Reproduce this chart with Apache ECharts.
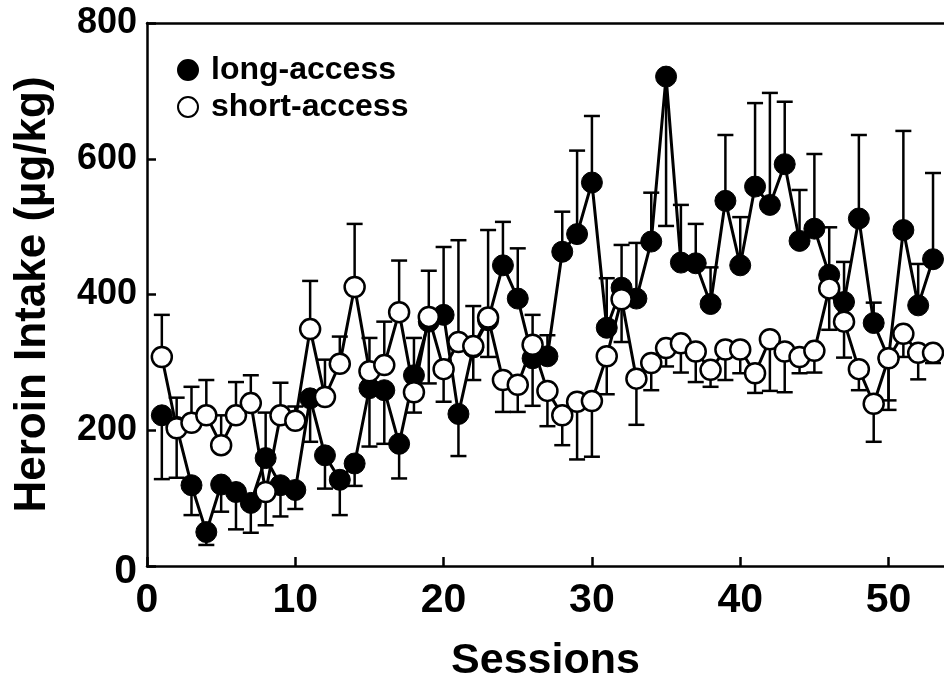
<!DOCTYPE html>
<html>
<head>
<meta charset="utf-8">
<script src="https://cdn.jsdelivr.net/npm/echarts@6/dist/echarts.min.js"></script>
<style>
  html, body { margin: 0; padding: 0; background: #fff; }
  #chart { width: 944px; height: 677px; }
</style>
</head>
<body>
<div id="chart"></div>
<script>
// sessions 1..53
var sessions = [];
for (var i = 1; i <= 53; i++) sessions.push(i);

// long-access means (filled circles)
var longMean = [222, 205, 119, 50, 120, 109, 93, 159, 119, 112,
  247, 163, 127, 151, 262, 259, 180, 281, 360, 370,
  224, 322, 362, 443, 394, 306, 309, 463, 489, 565,
  351, 410, 394, 478, 721, 447, 446, 386, 538, 443,
  559, 532, 592, 479, 497, 429, 389, 512, 358, 306,
  495, 384, 452];
// end of the error bar (cap) for long-access
var longCap = [128, 130, 75, 31, 80, 54, 49, 226, 73, 84,
  183, 114, 75, 118, 176, 180, 129, 336, 269, 470,
  162, 274, 308, 507, 468, 236, 340, 522, 612, 663,
  424, 473, 476, 550, 501, 532, 504, 440, 635, 514,
  682, 697, 684, 554, 607, 499, 448, 635, 388, 244,
  641, 445, 579];

// short-access means (open circles)
var shortMean = [308, 203, 211, 222, 178, 222, 240, 109, 222, 214,
  349, 249, 298, 411, 287, 296, 374, 256, 367, 290,
  330, 324, 366, 274, 267, 326, 258, 222, 242, 243,
  309, 393, 276, 299, 321, 328, 316, 289, 319, 319,
  284, 334, 316, 308, 317, 409, 360, 290, 239, 306,
  342, 314, 314];
var shortCap = [370, 248, 264, 274, 222, 271, 281, 60, 270, 235,
  420, 304, 338, 504, 336, 360, 450, 226, 435, 242,
  480, 383, 495, 227, 227, 370, 206, 178, 157, 161,
  253, 330, 208, 259, 294, 285, 271, 264, 274, 284,
  255, 258, 256, 284, 285, 348, 307, 259, 183, 230,
  308, 275, 299];

var xTicks = [0, 10, 20, 30, 40, 50];
var yTicks = [0, 200, 400, 600, 800];

function pairs(vals) {
  return sessions.map(function (s, i) { return [s, vals[i]]; });
}
function bars(mean, cap) {
  return sessions.map(function (s, i) { return [s, mean[i], cap[i]]; });
}

function renderBar(params, api) {
  var p0 = api.coord([api.value(0), api.value(1)]);
  var p1 = api.coord([api.value(0), api.value(2)]);
  var half = 8;
  var st = { stroke: "#000", lineWidth: 2.5 };
  return {
    type: "group",
    children: [
      { type: "line", shape: { x1: p0[0], y1: p0[1], x2: p1[0], y2: p1[1] }, style: st },
      { type: "line", shape: { x1: p1[0] - half, y1: p1[1], x2: p1[0] + half, y2: p1[1] }, style: st },
    ],
  };
}

var font = "Liberation Sans";
var chart = echarts.init(document.getElementById("chart"));
chart.setOption({
  animation: false,
  backgroundColor: "#fff",
  grid: { left: 147, top: 23, right: 0, bottom: 111, outerBoundsMode: "none", containLabel: false },
  legend: {
    orient: "vertical",
    left: 172,
    top: 49,
    itemWidth: 20,
    itemHeight: 20,
    itemGap: 5,
    icon: "circle",
    textStyle: { fontFamily: font, fontWeight: "bold", fontSize: 32, color: "#000", padding: [0, 0, 0, 8] },
    data: [
      { name: "long-access", itemStyle: { color: "#000" } },
      { name: "short-access", itemStyle: { color: "#fff", borderColor: "#000", borderWidth: 2 } },
    ],
  },
  xAxis: [
    {
      type: "value",
      min: 0,
      max: 53.74,
      interval: 10,
      name: "Sessions",
      nameLocation: "middle",
      nameGap: 74,
      nameTextStyle: { fontFamily: font, fontWeight: "bold", fontSize: 43, color: "#000" },
      axisLine: { lineStyle: { color: "#000", width: 2.5 } },
      axisTick: { inside: true, length: 9, lineStyle: { color: "#000", width: 2.5 } },
      axisLabel: {
        fontFamily: font, fontWeight: "bold", fontSize: 41, color: "#000", margin: 14,
        showMaxLabel: false,
        formatter: function (v) { return xTicks.indexOf(v) >= 0 ? String(v) : ""; },
      },
      splitLine: { show: false },
    },
    {
      type: "value",
      position: "top",
      min: 0,
      max: 53.74,
      axisLine: { lineStyle: { color: "#000", width: 2.5 } },
      axisTick: { show: false },
      axisLabel: { show: false },
      splitLine: { show: false },
    },
  ],
  yAxis: {
    type: "value",
    min: 0,
    max: 800,
    interval: 200,
    name: "Heroin Intake (µg/kg)",
    nameLocation: "middle",
    nameGap: 92,
    nameTextStyle: { fontFamily: font, fontWeight: "bold", fontSize: 44, color: "#000" },
    axisLine: { show: true, lineStyle: { color: "#000", width: 2.5 } },
    axisTick: { show: true, inside: true, length: 9, lineStyle: { color: "#000", width: 2.5 } },
    axisLabel: {
      fontFamily: font, fontWeight: "bold", fontSize: 36, color: "#000", margin: 10,
      formatter: function (v) {
        if (v === 0) return "{z|0}";
        return yTicks.indexOf(v) >= 0 ? String(v) : "";
      },
      rich: { z: { fontFamily: font, fontWeight: "bold", fontSize: 41, color: "#000", padding: [12, 0, 0, 0] } },
    },
    splitLine: { show: false },
  },
  series: [
    {
      name: "long-access-err",
      type: "custom",
      renderItem: renderBar,
      encode: { x: 0, y: [1, 2] },
      data: bars(longMean, longCap),
      z: 1,
      silent: true,
    },
    {
      name: "short-access-err",
      type: "custom",
      renderItem: renderBar,
      encode: { x: 0, y: [1, 2] },
      data: bars(shortMean, shortCap),
      z: 1,
      silent: true,
    },
    {
      name: "long-access",
      type: "line",
      data: pairs(longMean),
      symbol: "circle",
      symbolSize: 21,
      showAllSymbol: true,
      lineStyle: { color: "#000", width: 3 },
      itemStyle: { color: "#000", borderColor: "#000", borderWidth: 1 },
      z: 2,
    },
    {
      name: "short-access",
      type: "line",
      data: pairs(shortMean),
      symbol: "circle",
      symbolSize: 20,
      showAllSymbol: true,
      lineStyle: { color: "#000", width: 3 },
      itemStyle: { color: "#fff", borderColor: "#000", borderWidth: 2.5 },
      z: 3,
    },
  ],
});
</script>
</body>
</html>
